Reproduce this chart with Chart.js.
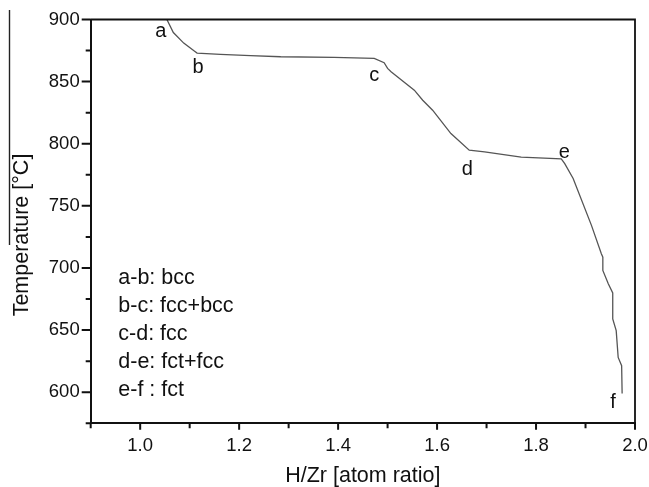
<!DOCTYPE html>
<html>
<head>
<meta charset="utf-8">
<script src="https://cdn.jsdelivr.net/npm/chart.js@4.4.1/dist/chart.umd.min.js"></script>
<style>
  html, body { margin: 0; padding: 0; background: #ffffff; }
  #wrap { width: 649px; height: 487px; position: relative; }
</style>
</head>
<body>
<div id="wrap"><canvas id="chart" width="649" height="487"></canvas></div>
<script>
// Hydrogen-to-zirconium atom ratio along the measured path
const hzRatio = [
  1.054, 1.067, 1.088, 1.108, 1.115, 1.162, 1.223, 1.284, 1.392, 1.473,
  1.493, 1.500, 1.507, 1.554, 1.571, 1.591, 1.628, 1.665, 1.696, 1.770,
  1.851, 1.858, 1.875, 1.912, 1.932, 1.935, 1.935, 1.946, 1.955, 1.955,
  1.962, 1.966, 1.973, 1.974
];
// Temperature (°C) at each ratio
const temperature = [
  900, 889.5, 881, 875, 873, 872, 871, 870, 869.5, 868.7,
  865.2, 860.6, 857.9, 843.1, 835, 827, 808.2, 794.8, 793.4, 789.2,
  787.8, 784, 772, 734.3, 711.4, 708.7, 698, 687.3, 680, 659,
  649.6, 628, 621.4, 599
];
// Phase boundary letters and the curve point each one marks
const boundaryLetters = ['a', 'b', 'c', 'd', 'e', 'f'];
const boundaryIndex = [0, 4, 9, 17, 20, 33];
// Phase notes listed inside the plot
const phaseNotes = ['a-b: bcc', 'b-c: fcc+bcc', 'c-d: fcc', 'd-e: fct+fcc', 'e-f : fct'];
// Axis ranges and titles
const xRange = [0.9, 2.0];
const yRange = [575, 900];
const xAxisTitle = 'H/Zr [atom ratio]';
const yAxisTitle = 'Temperature [°C]';

const FONT = "'Liberation Sans', Arial, Helvetica, sans-serif";
const INK = '#111111';

// Letter placement relative to its curve point (pixels)
const letterOffset = { a: [-6, 17], b: [1, 20], c: [0, 23], d: [-2, 25], e: [3, -1], f: [-9, 15] };

const decorations = {
  id: 'decorations',
  afterDatasetsDraw(chart) {
    const { ctx, chartArea: area, scales: { x, y } } = chart;
    ctx.save();

    // outward tick marks, long for labelled values, short between them
    ctx.strokeStyle = INK;
    ctx.lineWidth = 2;
    ctx.beginPath();
    y.ticks.forEach(t => {
      const py = y.getPixelForValue(t.value);
      const len = (Math.round(t.value) % 50 === 0) ? 9 : 5;
      ctx.moveTo(area.left, py);
      ctx.lineTo(area.left - len, py);
    });
    x.ticks.forEach(t => {
      const px = x.getPixelForValue(t.value);
      const k = Math.round(t.value * 10);
      const len = (k % 2 === 0) ? 6.5 : 5;
      ctx.moveTo(px, area.bottom);
      ctx.lineTo(px, area.bottom + len);
    });
    ctx.stroke();

    // top and right frame
    ctx.beginPath();
    ctx.lineWidth = 1.8;
    ctx.moveTo(area.left, area.top);
    ctx.lineTo(area.right, area.top);
    ctx.lineTo(area.right, area.bottom);
    ctx.stroke();

    // boundary letters
    ctx.fillStyle = INK;
    ctx.font = `20px ${FONT}`;
    ctx.textAlign = 'center';
    ctx.textBaseline = 'alphabetic';
    boundaryLetters.forEach((letter, i) => {
      const idx = boundaryIndex[i];
      const px = x.getPixelForValue(hzRatio[idx]);
      const py = y.getPixelForValue(temperature[idx]);
      const [dx, dy] = letterOffset[letter];
      ctx.fillText(letter, px + dx, py + dy);
    });

    // phase notes
    ctx.font = `21.5px ${FONT}`;
    ctx.textAlign = 'left';
    phaseNotes.forEach((note, i) => {
      ctx.fillText(note, area.left + 27.6, area.top + 264.5 + i * 27.9);
    });

    // vertical axis title
    ctx.save();
    ctx.translate(22, 235);
    ctx.rotate(-Math.PI / 2);
    ctx.font = `21.5px ${FONT}`;
    ctx.textAlign = 'center';
    ctx.textBaseline = 'middle';
    ctx.fillText(yAxisTitle, 0, 0);
    ctx.restore();

    // thin rule beside the axis title
    ctx.beginPath();
    ctx.strokeStyle = '#222222';
    ctx.lineWidth = 1.4;
    ctx.moveTo(9.5, 10);
    ctx.lineTo(9.5, 245);
    ctx.stroke();

    ctx.restore();
  }
};

new Chart(document.getElementById('chart'), {
  type: 'line',
  data: {
    datasets: [{
      data: hzRatio.map((h, i) => ({ x: h, y: temperature[i] })),
      borderColor: '#555555',
      borderWidth: 1.3,
      pointRadius: 0,
      tension: 0,
      fill: false
    }]
  },
  options: {
    responsive: false,
    animation: false,
    devicePixelRatio: 1,
    layout: { padding: { left: 0, top: 19.5, right: 14, bottom: 0 } },
    plugins: { legend: { display: false }, tooltip: { enabled: false } },
    scales: {
      x: {
        type: 'linear',
        min: xRange[0],
        max: xRange[1],
        afterFit(s) { s.height = 63.7; s.paddingLeft = 0; s.paddingRight = 0; },
        grid: { display: false, drawTicks: false },
        border: { display: true, color: INK, width: 2 },
        ticks: {
          stepSize: 0.1,
          autoSkip: false,
          maxRotation: 0,
          padding: 12,
          color: INK,
          font: { family: FONT, size: 18.5 },
          callback(v) {
            const k = Math.round(v * 10);
            return (k % 2 === 0 && k >= 10) ? (k / 10).toFixed(1) : '';
          }
        },
        title: {
          display: true,
          text: xAxisTitle,
          color: INK,
          font: { family: FONT, size: 21.5 },
          padding: { top: 0, bottom: -2 }
        }
      },
      y: {
        type: 'linear',
        min: yRange[0],
        max: yRange[1],
        afterFit(s) { s.width = 90.7; s.paddingTop = 0; s.paddingBottom = 0; },
        grid: { display: false, drawTicks: false },
        border: { display: true, color: INK, width: 2 },
        ticks: {
          stepSize: 25,
          autoSkip: false,
          padding: 11,
          color: INK,
          font: { family: FONT, size: 18.5 },
          callback(v) { return (Math.round(v) % 50 === 0) ? String(v) : ''; }
        }
      }
    }
  },
  plugins: [decorations]
});
</script>
</body>
</html>
